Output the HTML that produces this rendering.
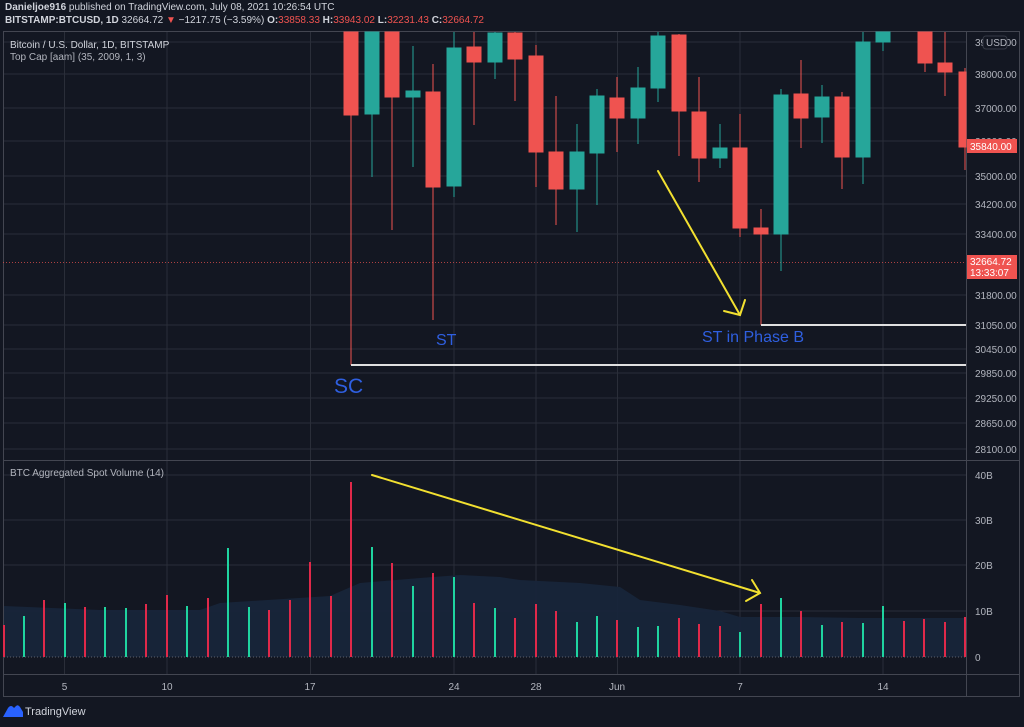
<!DOCTYPE html>
<html><head><meta charset="utf-8"><style>
body{margin:0;background:#131722;width:1024px;height:722px;overflow:hidden;font-family:"Liberation Sans",sans-serif;}
</style></head><body>
<svg width="1024" height="722" xmlns="http://www.w3.org/2000/svg" font-family="Liberation Sans, sans-serif">
<rect width="1024" height="722" fill="#131722"/>
<text x="5" y="10" font-size="10" fill="#d1d4dc"><tspan font-weight="bold">Danieljoe916</tspan> published on TradingView.com, July 08, 2021 10:26:54 UTC</text>
<text x="5" y="23" font-size="10" fill="#d1d4dc"><tspan font-weight="bold">BITSTAMP:BTCUSD, 1D</tspan> 32664.72 <tspan fill="#ef5350">▼</tspan> −1217.75 (−3.59%) <tspan font-weight="bold">O:</tspan><tspan fill="#ef5350">33858.33</tspan> <tspan font-weight="bold">H:</tspan><tspan fill="#ef5350">33943.02</tspan> <tspan font-weight="bold">L:</tspan><tspan fill="#ef5350">32231.43</tspan> <tspan font-weight="bold">C:</tspan><tspan fill="#ef5350">32664.72</tspan></text>
<g stroke="#2a2e39" stroke-width="1">
<line x1="3" x2="966" y1="42" y2="42"/><line x1="3" x2="966" y1="74" y2="74"/><line x1="3" x2="966" y1="108" y2="108"/><line x1="3" x2="966" y1="141" y2="141"/><line x1="3" x2="966" y1="176" y2="176"/><line x1="3" x2="966" y1="204" y2="204"/><line x1="3" x2="966" y1="234" y2="234"/><line x1="3" x2="966" y1="295" y2="295"/><line x1="3" x2="966" y1="325" y2="325"/><line x1="3" x2="966" y1="349" y2="349"/><line x1="3" x2="966" y1="373" y2="373"/><line x1="3" x2="966" y1="398" y2="398"/><line x1="3" x2="966" y1="423" y2="423"/><line x1="3" x2="966" y1="449" y2="449"/>
<line x1="3" x2="966" y1="475" y2="475"/><line x1="3" x2="966" y1="520" y2="520"/><line x1="3" x2="966" y1="565" y2="565"/><line x1="3" x2="966" y1="611" y2="611"/>
<line x1="64.5" x2="64.5" y1="31" y2="674"/><line x1="167" x2="167" y1="31" y2="674"/><line x1="310.5" x2="310.5" y1="31" y2="674"/><line x1="454" x2="454" y1="31" y2="674"/><line x1="536" x2="536" y1="31" y2="674"/><line x1="617.5" x2="617.5" y1="31" y2="674"/><line x1="740" x2="740" y1="31" y2="674"/><line x1="883" x2="883" y1="31" y2="674"/>
</g>
<g stroke="#434651" fill="none" stroke-width="1">
<rect x="3.5" y="31.5" width="1016" height="665"/>
<line x1="3" x2="1020" y1="460.5" y2="460.5"/>
<line x1="3" x2="1020" y1="674.5" y2="674.5"/>
<line x1="966.5" x2="966.5" y1="31" y2="697"/>
</g>
<line x1="3" x2="966" y1="262.5" y2="262.5" stroke="#ef5350" stroke-dasharray="1,2" opacity="0.7"/>
<g>
<g fill="#ef5350" stroke="#ef5350">
<line x1="351" x2="351" y1="32" y2="365"/><rect x="344" y="32" width="14" height="83"/>
<line x1="392" x2="392" y1="32" y2="230"/><rect x="385" y="32" width="14" height="65"/>
<line x1="433" x2="433" y1="64" y2="320"/><rect x="426" y="92" width="14" height="95"/>
<line x1="474" x2="474" y1="32" y2="125"/><rect x="467" y="47" width="14" height="15"/>
<line x1="515" x2="515" y1="32" y2="101"/><rect x="508" y="33" width="14" height="26"/>
<line x1="536" x2="536" y1="45" y2="187"/><rect x="529" y="56" width="14" height="96"/>
<line x1="556" x2="556" y1="96" y2="225"/><rect x="549" y="152" width="14" height="37"/>
<line x1="617" x2="617" y1="77" y2="152"/><rect x="610" y="98" width="14" height="20"/>
<line x1="679" x2="679" y1="34" y2="156"/><rect x="672" y="35" width="14" height="76"/>
<line x1="699" x2="699" y1="77" y2="182"/><rect x="692" y="112" width="14" height="46"/>
<line x1="740" x2="740" y1="114" y2="237"/><rect x="733" y="148" width="14" height="80"/>
<line x1="761" x2="761" y1="209" y2="325"/><rect x="754" y="228" width="14" height="6"/>
<line x1="801" x2="801" y1="60" y2="148"/><rect x="794" y="94" width="14" height="24"/>
<line x1="842" x2="842" y1="92" y2="189"/><rect x="835" y="97" width="14" height="60"/>
<line x1="925" x2="925" y1="32" y2="72"/><rect x="918" y="32" width="14" height="31"/>
<line x1="945" x2="945" y1="32" y2="96"/><rect x="938" y="63" width="14" height="9"/>
<line x1="965" x2="965" y1="68" y2="170"/><rect x="959" y="72" width="7" height="75"/>
</g>
<g fill="#26a69a" stroke="#26a69a">
<line x1="372" x2="372" y1="32" y2="177"/><rect x="365" y="32" width="14" height="82"/>
<line x1="413" x2="413" y1="46" y2="167"/><rect x="406" y="91" width="14" height="6"/>
<line x1="454" x2="454" y1="32" y2="197"/><rect x="447" y="48" width="14" height="138"/>
<line x1="495" x2="495" y1="32" y2="79"/><rect x="488" y="33" width="14" height="29"/>
<line x1="577" x2="577" y1="124" y2="232"/><rect x="570" y="152" width="14" height="37"/>
<line x1="597" x2="597" y1="89" y2="205"/><rect x="590" y="96" width="14" height="57"/>
<line x1="638" x2="638" y1="67" y2="144"/><rect x="631" y="88" width="14" height="30"/>
<line x1="658" x2="658" y1="32" y2="102"/><rect x="651" y="36" width="14" height="52"/>
<line x1="720" x2="720" y1="124" y2="168"/><rect x="713" y="148" width="14" height="10"/>
<line x1="781" x2="781" y1="89" y2="271"/><rect x="774" y="95" width="14" height="139"/>
<line x1="822" x2="822" y1="85" y2="143"/><rect x="815" y="97" width="14" height="20"/>
<line x1="863" x2="863" y1="32" y2="184"/><rect x="856" y="42" width="14" height="115"/>
<line x1="883" x2="883" y1="32" y2="51"/><rect x="876" y="32" width="14" height="10"/>
</g>
</g>
<line x1="351" x2="966" y1="365" y2="365" stroke="#e0e0e0" stroke-width="2"/>
<line x1="761" x2="966" y1="325" y2="325" stroke="#e0e0e0" stroke-width="2"/>
<text x="334" y="393" font-size="21" fill="#2f5fe0">SC</text>
<text x="436" y="345" font-size="16" fill="#2f5fe0">ST</text>
<text x="702" y="342" font-size="16" fill="#2f5fe0">ST in Phase B</text>
<g stroke="#f2e030" stroke-width="2" fill="none" stroke-linecap="round">
<line x1="658" y1="171" x2="740" y2="315"/><polyline points="724,311 740,315 745,300"/>
<line x1="372" y1="475" x2="760" y2="593"/><polyline points="752,580 760,593 746,601"/>
</g>
<text x="10" y="48" font-size="10" fill="#d1d4dc">Bitcoin / U.S. Dollar, 1D, BITSTAMP</text>
<text x="10" y="60" font-size="10" fill="#b2b5be">Top Cap [aam] (35, 2009, 1, 3)</text>
<text x="10" y="476" font-size="10" fill="#b2b5be">BTC Aggregated Spot Volume (14)</text>
<path d="M4,606 L100,610 L200,610 L220,603 L330,596 L360,583 L420,578 L460,575 L500,577 L520,580 L580,583 L620,587 L640,600 L680,605 L720,611 L740,617 L800,617 L860,618 L966,618 L966,657 L4,657 Z" fill="#17253a" opacity="0.95"/>
<line x1="4" x2="966" y1="657" y2="657" stroke="#5d606b" stroke-dasharray="1,2"/>
<g stroke-width="2">
<g stroke="#e0294a">
<line x1="4" x2="4" y1="657" y2="625"/><line x1="44" x2="44" y1="657" y2="600"/><line x1="85" x2="85" y1="657" y2="607"/><line x1="146" x2="146" y1="657" y2="604"/><line x1="167" x2="167" y1="657" y2="595"/><line x1="208" x2="208" y1="657" y2="598"/><line x1="269" x2="269" y1="657" y2="610"/><line x1="290" x2="290" y1="657" y2="600"/><line x1="310" x2="310" y1="657" y2="562"/><line x1="331" x2="331" y1="657" y2="596"/><line x1="351" x2="351" y1="657" y2="482"/><line x1="392" x2="392" y1="657" y2="563"/><line x1="433" x2="433" y1="657" y2="573"/><line x1="474" x2="474" y1="657" y2="603"/><line x1="515" x2="515" y1="657" y2="618"/><line x1="536" x2="536" y1="657" y2="604"/><line x1="556" x2="556" y1="657" y2="611"/><line x1="617" x2="617" y1="657" y2="620"/><line x1="679" x2="679" y1="657" y2="618"/><line x1="699" x2="699" y1="657" y2="624"/><line x1="720" x2="720" y1="657" y2="626"/><line x1="761" x2="761" y1="657" y2="604"/><line x1="801" x2="801" y1="657" y2="611"/><line x1="842" x2="842" y1="657" y2="622"/><line x1="904" x2="904" y1="657" y2="621"/><line x1="924" x2="924" y1="657" y2="619"/><line x1="945" x2="945" y1="657" y2="622"/><line x1="965" x2="965" y1="657" y2="617"/>
</g>
<g stroke="#1fd4a0">
<line x1="24" x2="24" y1="657" y2="616"/><line x1="65" x2="65" y1="657" y2="603"/><line x1="105" x2="105" y1="657" y2="607"/><line x1="126" x2="126" y1="657" y2="608"/><line x1="187" x2="187" y1="657" y2="606"/><line x1="228" x2="228" y1="657" y2="548"/><line x1="249" x2="249" y1="657" y2="607"/><line x1="372" x2="372" y1="657" y2="547"/><line x1="413" x2="413" y1="657" y2="586"/><line x1="454" x2="454" y1="657" y2="577"/><line x1="495" x2="495" y1="657" y2="608"/><line x1="577" x2="577" y1="657" y2="622"/><line x1="597" x2="597" y1="657" y2="616"/><line x1="638" x2="638" y1="657" y2="627"/><line x1="658" x2="658" y1="657" y2="626"/><line x1="740" x2="740" y1="657" y2="632"/><line x1="781" x2="781" y1="657" y2="598"/><line x1="822" x2="822" y1="657" y2="625"/><line x1="863" x2="863" y1="657" y2="623"/><line x1="883" x2="883" y1="657" y2="606"/>
</g>
</g>
<g font-size="10" fill="#b2b5be">
<text x="975" y="46">39000.00</text>
<text x="975" y="78">38000.00</text>
<text x="975" y="112">37000.00</text>
<text x="975" y="145">36000.00</text>
<text x="975" y="180">35000.00</text>
<text x="975" y="208">34200.00</text>
<text x="975" y="238">33400.00</text>
<text x="975" y="299">31800.00</text>
<text x="975" y="329">31050.00</text>
<text x="975" y="353">30450.00</text>
<text x="975" y="377">29850.00</text>
<text x="975" y="402">29250.00</text>
<text x="975" y="427">28650.00</text>
<text x="975" y="453">28100.00</text>
<text x="975" y="479">40B</text>
<text x="975" y="524">30B</text>
<text x="975" y="569">20B</text>
<text x="975" y="615">10B</text>
<text x="975" y="661">0</text>
</g>
<rect x="983" y="36" width="24" height="13" rx="3" fill="#131722" stroke="#363a45"/>
<text x="986" y="46" font-size="10" fill="#b2b5be">USD</text>
<rect x="967" y="139" width="50" height="14" fill="#ef5350"/>
<text x="970" y="150" font-size="10" fill="#fff">35840.00</text>
<rect x="967" y="255" width="50" height="24" fill="#ef5350"/>
<text x="970" y="265" font-size="10" fill="#fff">32664.72</text>
<text x="970" y="276" font-size="10" fill="#fff">13:33:07</text>
<g font-size="10" fill="#b2b5be" text-anchor="middle">
<text x="64.5" y="690">5</text><text x="167" y="690">10</text><text x="310" y="690">17</text><text x="454" y="690">24</text><text x="536" y="690">28</text><text x="617" y="690">Jun</text><text x="740" y="690">7</text><text x="883" y="690">14</text>
</g>
<path d="M3,717 L8,708 Q11,704 14,708 L16,706 Q18,704 20,707 L23,712 L23,717 Z" fill="#2962ff"/>
<text x="25" y="715" font-size="11" fill="#d1d4dc">TradingView</text>
</svg>
</body></html>
